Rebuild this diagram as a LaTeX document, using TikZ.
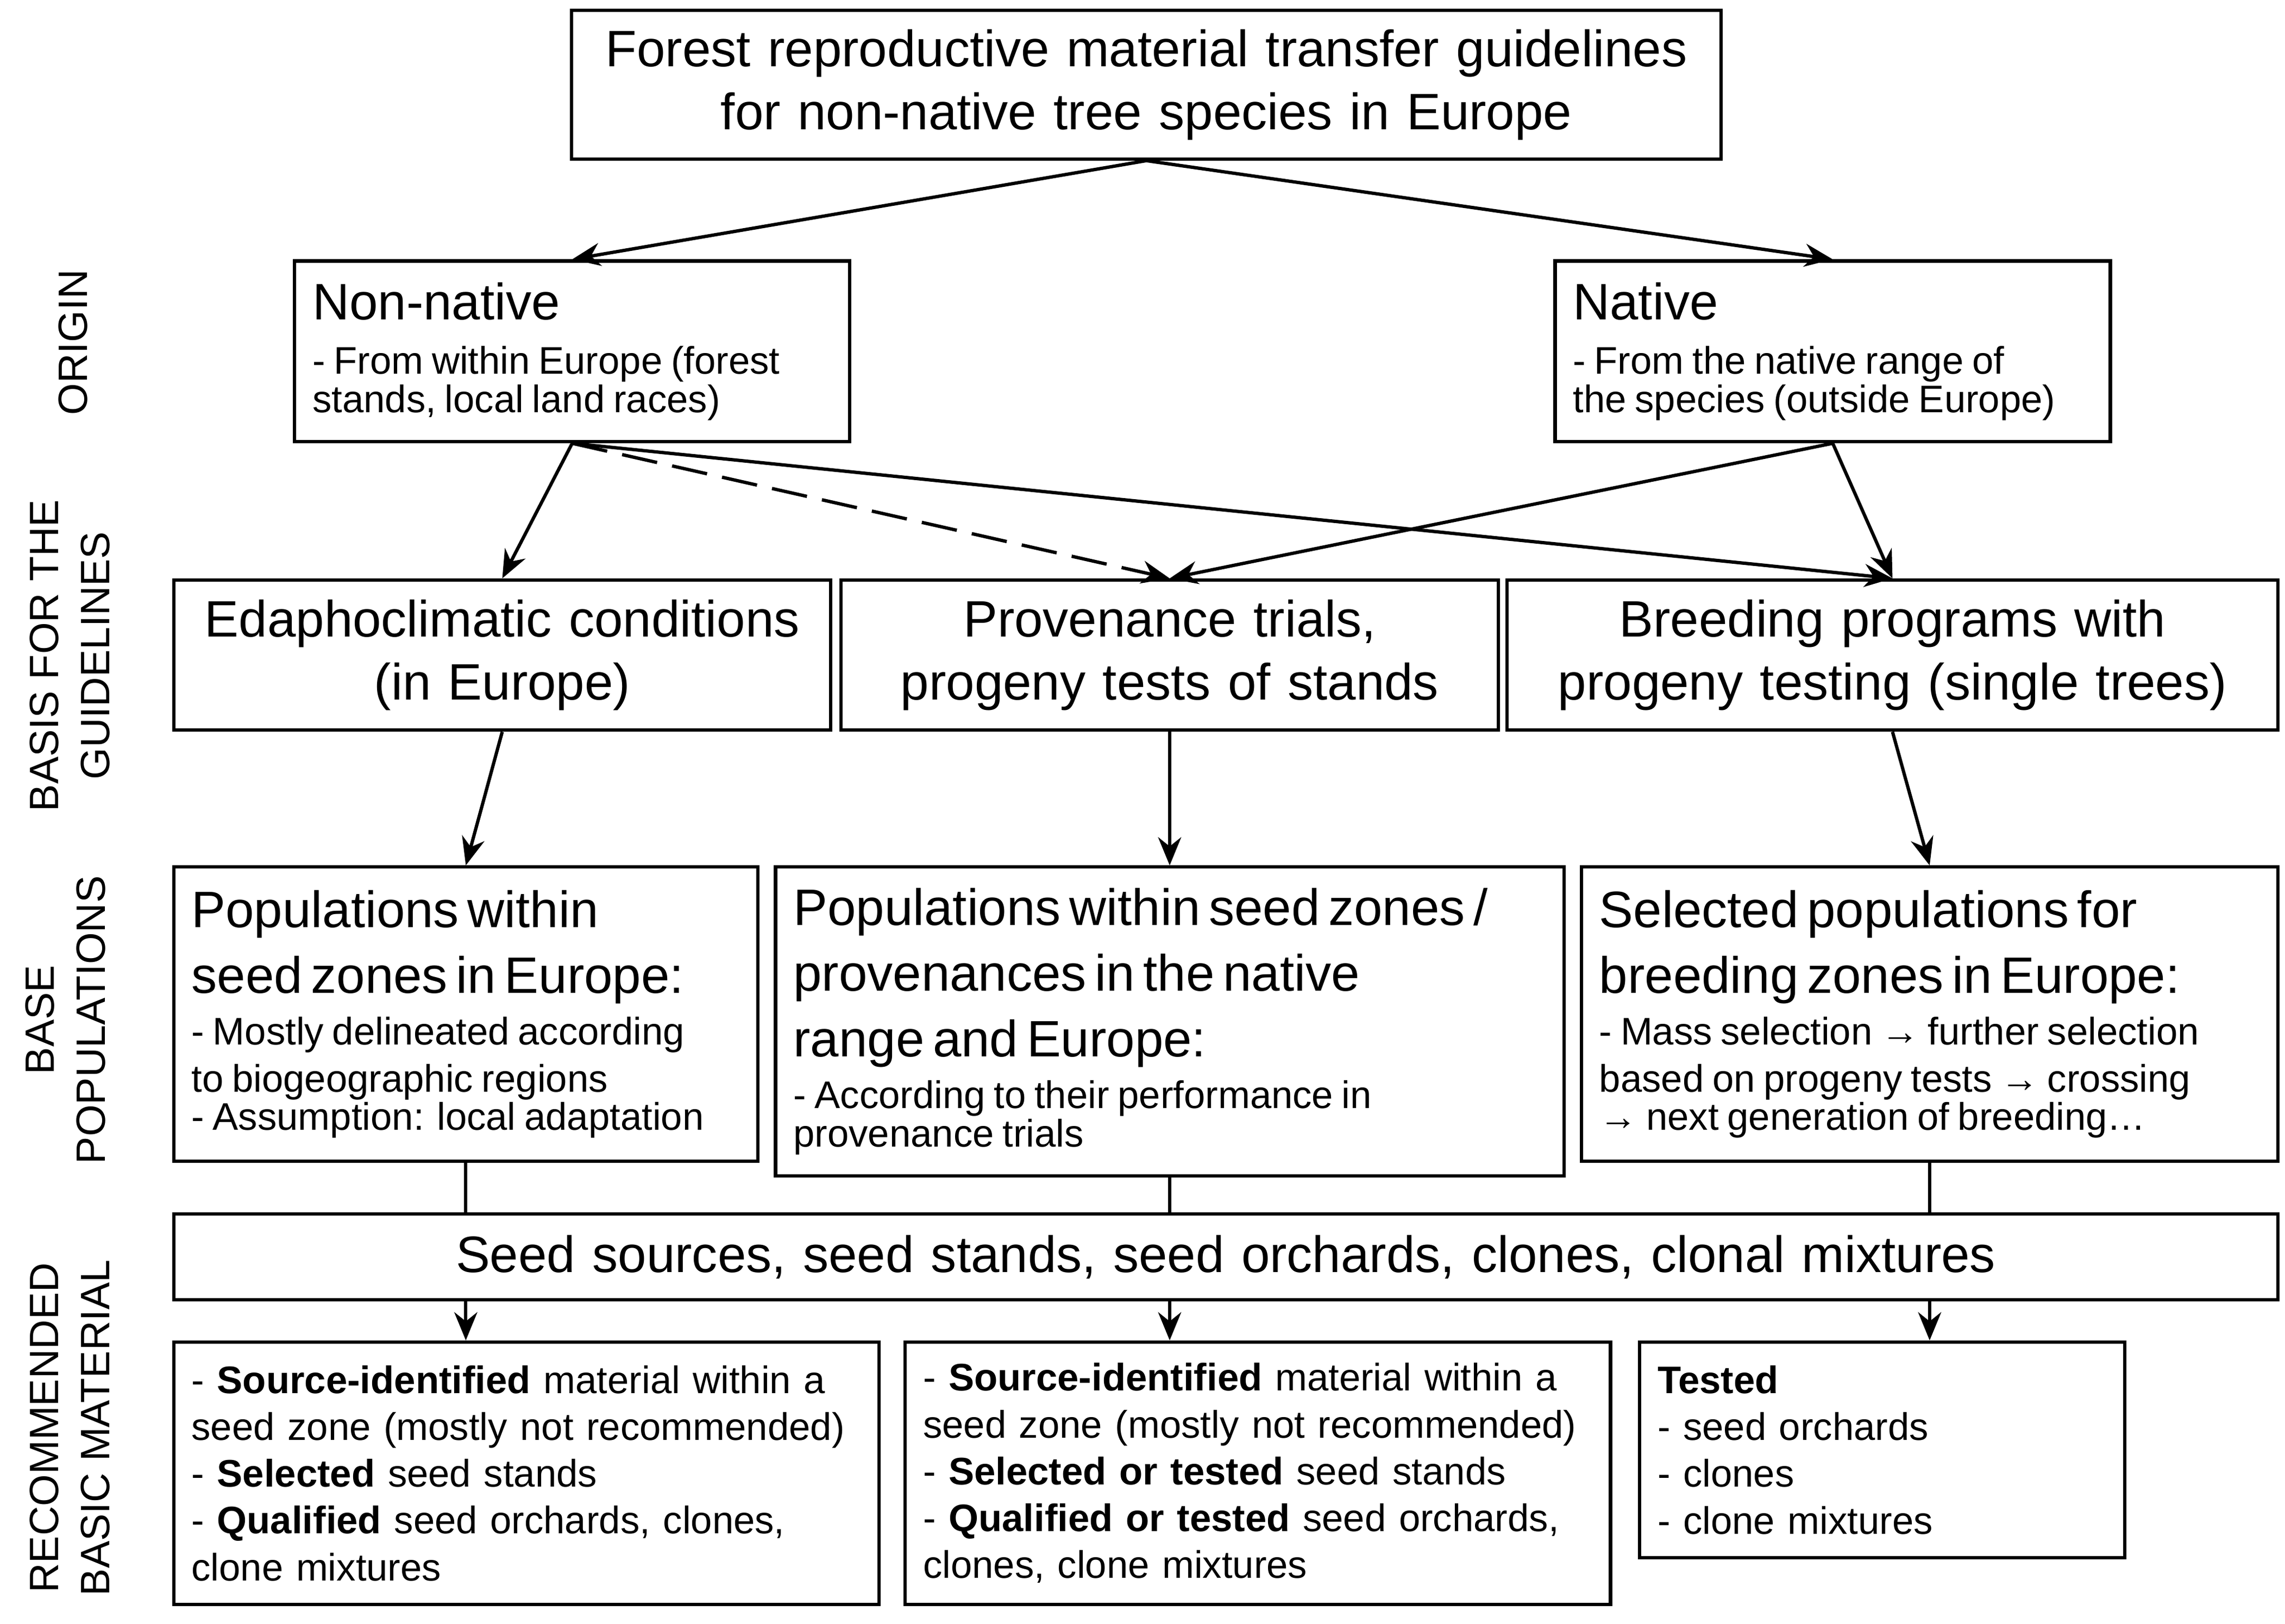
\documentclass[tikz,border=0pt]{standalone}
\usepackage{fontspec}
\setmainfont{Liberation Sans}
\usetikzlibrary{arrows.meta}
\begin{document}
\begin{tikzpicture}[x=0.02cm,y=-0.02cm,
 box/.style={draw,line width=1.3pt,anchor=north west,inner xsep=7pt,inner ysep=4pt},
 big/.style={font=\fontsize{20}{24.5}\selectfont},
 small/.style={font=\fontsize{15}{18.3}\selectfont},
 arr/.style={line width=1.3pt,-{Stealth[length=11pt,width=9pt]}},
 lab/.style={rotate=90,align=center,font=\fontsize{16}{20}\selectfont}]
\useasboundingbox (0,0) rectangle (1568,1114.6);
\newcommand{\FB}{\fontsize{20}{18.3}\selectfont}
\newcommand{\FS}{\fontsize{15}{18.3}\selectfont}
\newcommand{\bx}[6]{\node[box,#6,minimum width={(#3-#1)*0.02cm},minimum height={(#4-#2)*0.02cm},text width={(#3-#1)*0.02cm-14pt}] (#5) at (#1,#2)}
\bx{391}{6}{1180}{108}{title}{big,align=center}{Forest reproductive material transfer guidelines\\for non-native tree species in Europe};
\bx{201}{178}{582}{302}{nn}{align=left}{\FB Non-native\\[3pt]\FS - From within Europe (forest\\stands, local land races)};
\bx{1066}{178}{1447}{302}{na}{align=left}{\FB Native\\[3pt]\FS - From the native range of\\the species (outside Europe)};
\bx{118}{397}{569}{500}{ed}{big,align=center}{Edaphoclimatic conditions\\(in Europe)};
\bx{576}{397}{1027}{500}{pr}{big,align=center}{Provenance trials,\\progeny tests of stands};
\bx{1033}{397}{1562}{500}{br}{big,align=center}{Breeding programs with\\progeny testing (single trees)};
\bx{118}{594}{519}{796}{p1}{align=left}{\FB Populations within\\[6pt]seed zones in Europe:\\[2pt]\FS - Mostly delineated according\\to biogeographic regions\\- Assumption: local adaptation};
\bx{531}{594}{1072}{806}{p2}{align=left}{\FB Populations within seed zones /\\[6pt]provenances in the native\\[6pt]range and Europe:\\[2pt]\FS - According to their performance in\\provenance trials};
\bx{1084}{594}{1562}{796}{p3}{align=left}{\FB Selected populations for\\[6pt]breeding zones in Europe:\\[2pt]\FS - Mass selection → further selection\\based on progeny tests → crossing\\→ next generation of breeding…};
\bx{118}{832}{1562}{891}{sd}{big,align=center}{Seed sources, seed stands, seed orchards, clones, clonal mixtures};
\bx{118}{920}{602}{1100}{b1}{small,align=left}{- \textbf{Source-identified} material within a\\seed zone (mostly not recommended)\\- \textbf{Selected} seed stands\\- \textbf{Qualified} seed orchards, clones,\\clone mixtures};
\bx{620}{920}{1104}{1100}{b2}{small,align=left}{- \textbf{Source-identified} material within a\\seed zone (mostly not recommended)\\- \textbf{Selected or tested} seed stands\\- \textbf{Qualified or tested} seed orchards,\\clones, clone mixtures};
\bx{1124}{920}{1457}{1068}{b3}{small,align=left}{\textbf{Tested}\\- seed orchards\\- clones\\- clone mixtures};
\node[lab] (l1) at (50,235) {ORIGIN};
\node[lab] (l2) at (48,450) {BASIS FOR THE\\GUIDELINES};
\node[lab] (l3) at (45,700) {BASE\\POPULATIONS};
\node[lab] (l4) at (48,980) {RECOMMENDED\\BASIC MATERIAL};
\draw[arr] (title.south) -- (nn.north);
\draw[arr] (title.south) -- (na.north);
\draw[arr] (nn.south) -- (ed.north);
\draw[arr,dash pattern=on 14pt off 6pt] (nn.south) -- (pr.north);
\draw[arr] (nn.south) -- (br.north);
\draw[arr] (na.south) -- (pr.north);
\draw[arr] (na.south) -- (br.north);
\draw[arr] (ed.south) -- (p1.north);
\draw[arr] (pr.south) -- (p2.north);
\draw[arr] (br.south) -- (p3.north);
\draw[line width=1.3pt] (p1.south) -- (p1.south |- sd.north);
\draw[line width=1.3pt] (p2.south) -- (p2.south |- sd.north);
\draw[line width=1.3pt] (p3.south) -- (p3.south |- sd.north);
\draw[arr] (sd.south -| p1.south) -- (b1.north -| p1.south);
\draw[arr] (sd.south -| p2.south) -- (b2.north -| p2.south);
\draw[arr] (sd.south -| p3.south) -- (b3.north -| p3.south);
\end{tikzpicture}
\end{document}
